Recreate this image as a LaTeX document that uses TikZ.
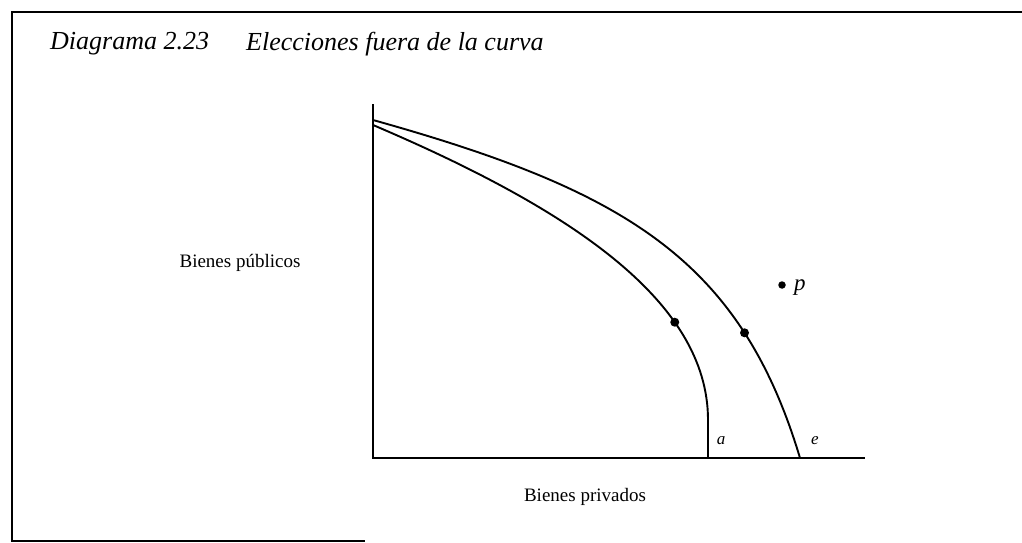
\documentclass[tikz,border=0pt]{standalone}
\usepackage{fontspec}
\setmainfont{Liberation Serif}
\usetikzlibrary{positioning}

\begin{document}
\begin{tikzpicture}[
    x=1pt, y=-1pt,
    frameline/.style={line width=1.8pt, draw=black},
    axisline/.style={line width=2.2pt, draw=black},
    curveline/.style={line width=1.9pt, draw=black},
    choicedot/.style={circle, fill=black, inner sep=0pt, minimum size=9pt},
    freedot/.style={circle, fill=black, inner sep=0pt, minimum size=7.5pt},
    titlelabel/.style={font=\fontsize{26}{30}\selectfont\itshape, anchor=west, inner sep=0pt},
    axlabel/.style={font=\fontsize{19}{22}\selectfont, inner sep=0pt},
    ptlabel/.style={font=\fontsize{17}{20}\selectfont\itshape, inner sep=0pt}
]
\useasboundingbox (0,0) rectangle (1022,543);

% === Frame ===
\coordinate (frame-tr) at (1022,12);
\coordinate (frame-tl) at (12,12);
\coordinate (frame-bl) at (12,541);
\coordinate (frame-br) at (365,541);
\draw[frameline] (frame-tr) -- (frame-tl) -- (frame-bl) -- (frame-br);

% === Title ===
\node[titlelabel] (title-num) at (50,44) {Diagrama 2.23};
\node[titlelabel] (title-text) at (246,44) {Elecciones fuera de la curva};

% === Axes ===
\coordinate (origin) at (373,458);
\coordinate (y-top) at (373,104);
\coordinate (x-end) at (865,458);
\draw[axisline] (y-top) -- (origin) -- (x-end);

% === Frontier curves, with the chosen points on them ===
% inner curve (ends at a)
\coordinate (inner-start) at (373,125);
\coordinate (a-bend) at (708,420);
\coordinate (a-foot) at (708,458);
\draw[curveline] (inner-start) .. controls (568,208) and (708,300) .. (a-bend)
    node[choicedot, pos=0.71] (inner-dot) {} -- (a-foot);
% outer curve (ends at e)
\coordinate (outer-start) at (373,120);
\coordinate (e-foot) at (800,458);
\draw[curveline] (outer-start) .. controls (623,190) and (740,258) .. (e-foot)
    node[choicedot, pos=0.755] (outer-dot) {};

% === Point off the curve ===
\node[freedot] (p-dot) at (782,285) {};
\node[ptlabel, font=\fontsize{23}{26}\selectfont\itshape, right=8pt of p-dot, yshift=-3pt] (p-label) {p};

% === Labels ===
\node[ptlabel] (a-label) at (721,441) {a};
\node[ptlabel] (e-label) at (815,441) {e};
\node[axlabel] (y-label) at (240,263) {Bienes públicos};
\node[axlabel] (x-label) at (585,497) {Bienes privados};

\end{tikzpicture}
\end{document}
